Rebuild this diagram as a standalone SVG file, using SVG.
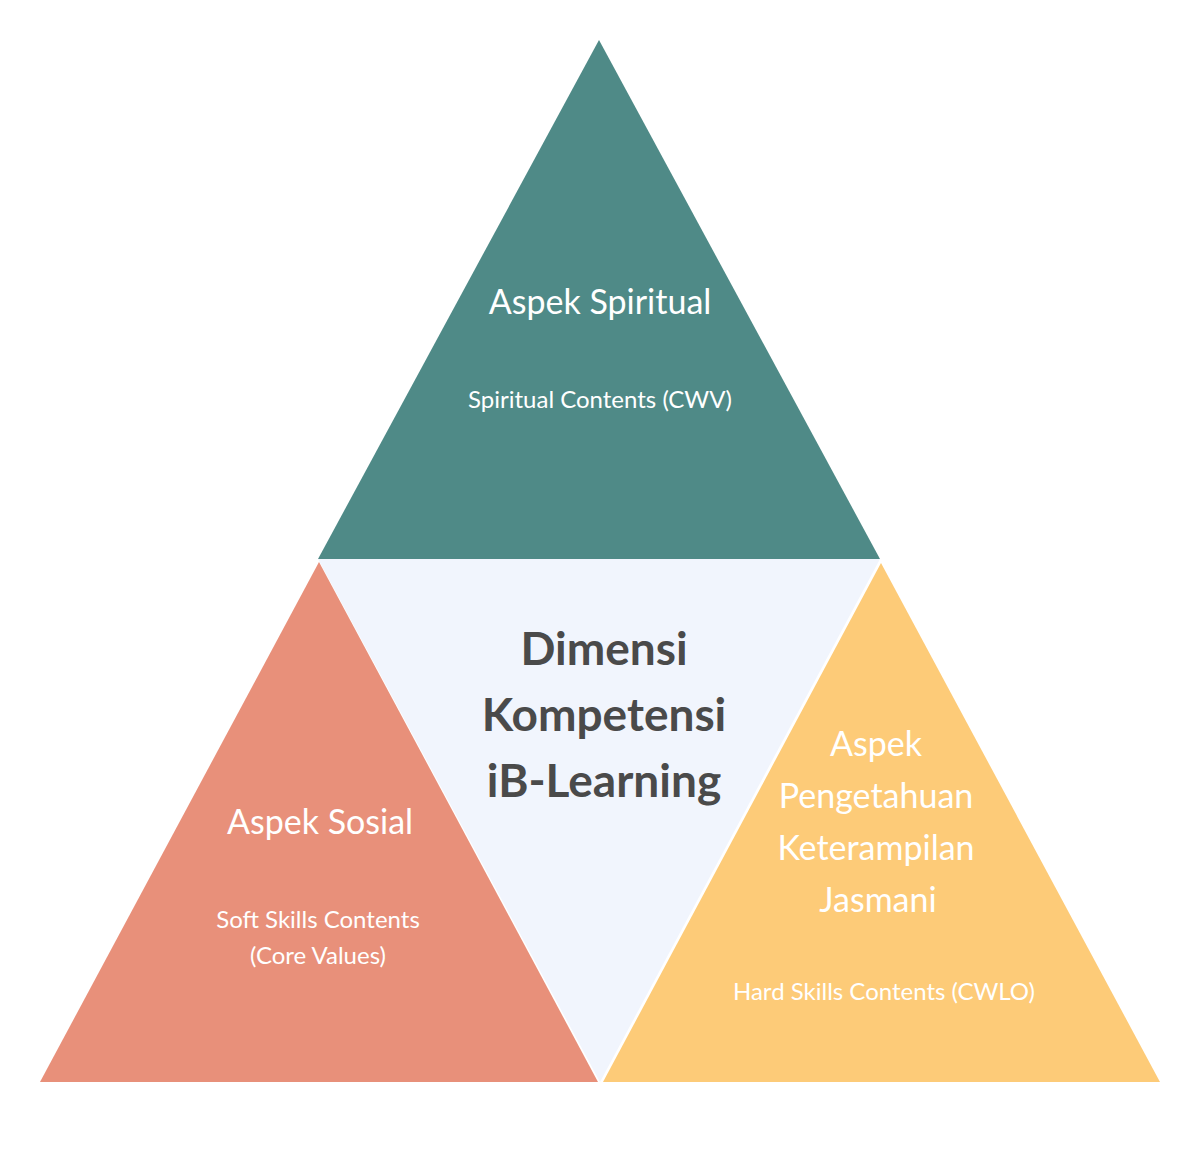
<svg xmlns="http://www.w3.org/2000/svg" width="1200" height="1153" viewBox="0 0 1200 1153">
<style>
.t{font-family:Lato,"Liberation Sans",sans-serif;fill:#fff;text-anchor:middle}
.h{font-size:34px}.s{font-size:24px}
.c{font-family:Lato,"Liberation Sans",sans-serif;fill:#4a4a4a;text-anchor:middle;font-size:46px;font-weight:bold}
</style>
<rect width="1200" height="1153" fill="#fff"/>
<g id="center"><polygon points="318,559 880,559 600,1082" fill="#F1F5FD"/>
<text class="c" x="604" y="665">Dimensi</text><text class="c" x="604" y="731">Kompetensi</text><text class="c" x="604" y="797">iB-Learning</text></g>
<g id="top"><polygon points="599,40 318,559 880,559" fill="#4F8A87"/>
<text class="t h" x="600" y="314">Aspek Spiritual</text><text class="t s" x="600" y="408">Spiritual Contents (CWV)</text></g>
<g id="left"><polygon points="319,562 40,1082 598,1082" fill="#E8907A"/>
<text class="t h" x="320" y="834">Aspek Sosial</text><text class="t s" x="318" y="928">Soft Skills Contents</text><text class="t s" x="318" y="964">(Core Values)</text></g>
<g id="right"><polygon points="881,563 603,1082 1160,1082" fill="#FDCB78"/>
<text class="t h" x="876" y="756">Aspek</text><text class="t h" x="876" y="808">Pengetahuan</text><text class="t h" x="876" y="860">Keterampilan</text><text class="t h" x="878" y="912">Jasmani</text>
<text class="t s" x="884" y="1000">Hard Skills Contents (CWLO)</text></g>
<g id="connectors"/>
</svg>
